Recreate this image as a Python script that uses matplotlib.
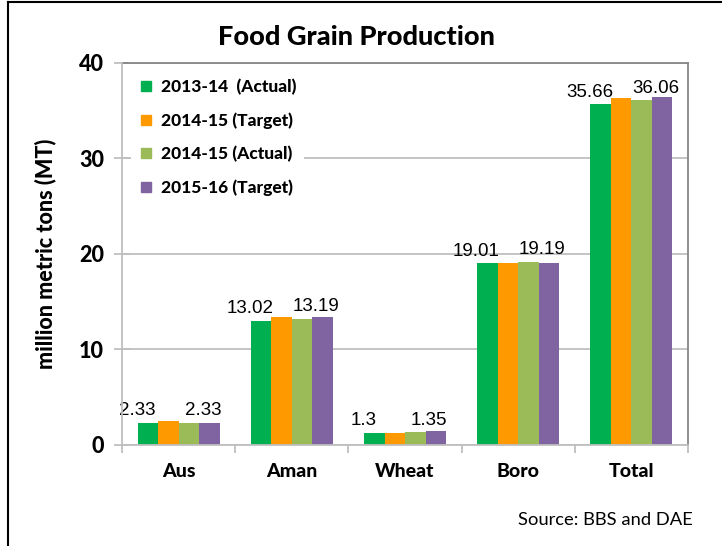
import matplotlib.pyplot as plt
import numpy as np
from matplotlib.lines import Line2D

categories = ["Aus", "Aman", "Wheat", "Boro", "Total"]
series_names = ["2013-14  (Actual)", "2014-15 (Target)", "2014-15 (Actual)", "2015-16 (Target)"]
actual_1314 = [2.33, 13.02, 1.30, 19.01, 35.66]
target_1415 = [2.55, 13.40, 1.30, 19.00, 36.30]
actual_1415 = [2.33, 13.19, 1.35, 19.19, 36.06]
target_1516 = [2.33, 13.40, 1.50, 19.00, 36.45]
colors = ["#00B050", "#FF9900", "#9BBB59", "#8064A2"]

values = [actual_1314, target_1415, actual_1415, target_1516]
labelled = [0, 2]  # series that carry data labels

fig = plt.figure(figsize=(7.22, 5.46), dpi=100)
ax = fig.add_axes([0.169, 0.185, 0.784, 0.70])

x = np.arange(len(categories))
w = 0.181
for i, (vals, col, name) in enumerate(zip(values, colors, series_names)):
    bars = ax.bar(x + (i - 1.5) * w, vals, width=w, color=col, label=name, zorder=3)
    if i in labelled:
        dx = -8 if i == 0 else 10
        for b, v in zip(bars, vals):
            ax.annotate(f"{v:g}", (b.get_x() + b.get_width() / 2, b.get_height()),
                        xytext=(dx, 2.5), textcoords="offset points",
                        ha="center", va="bottom", fontsize=13.5,
                        family="Liberation Sans", zorder=4)

ax.set_xlim(-0.5, 4.5)
ax.set_ylim(0, 40)
ax.set_yticks([0, 10, 20, 30, 40])
ax.grid(axis="y", color="#BFBFBF", linewidth=1.3, zorder=0)

bold = dict(family="Lato", fontweight="black")
ax.set_xticks(x)
ax.set_xticklabels(categories, fontsize=14, **bold)
ax.set_xticks(np.arange(-0.5, 5, 1), minor=True)
ax.tick_params(axis="x", which="major", length=0, pad=13)
ax.tick_params(axis="x", which="minor", direction="out", length=5.5, color="#BFBFBF", width=1.3)
ax.tick_params(axis="y", direction="inout", length=12, color="#BFBFBF", width=1.3,
               labelsize=15.5, pad=7)
for lab in ax.get_yticklabels():
    lab.set_fontweight("black")
    lab.set_family("Lato")

for s in ["left", "bottom"]:
    ax.spines[s].set_color("#BFBFBF")
    ax.spines[s].set_linewidth(1.3)
    ax.spines[s].set_zorder(5)
for s in ["top", "right"]:
    ax.spines[s].set_color("#868686")
    ax.spines[s].set_linewidth(1.3)

ax.set_ylabel("million metric tons (MT)", fontsize=15.5, labelpad=16, **bold)

handles = [Line2D([], [], marker="s", linestyle="none", markersize=7.5, color=c) for c in colors]
leg = ax.legend(handles, series_names, loc="upper left", bbox_to_anchor=(0.0, 1.0),
                frameon=True, framealpha=1, facecolor="white", edgecolor="none",
                fancybox=False, labelspacing=1.0, handlelength=1.0, handletextpad=0.35,
                borderpad=0.4, prop={"family": "Lato", "weight": "black", "size": 12.5})
leg.set_zorder(6)

fig.text(0.494, 0.932, "Food Grain Production", ha="center", va="center",
         fontsize=19.5, **bold)
fig.text(0.96, 0.047, "Source: BBS and DAE", ha="right", va="center",
         fontsize=13.2, family="Lato")

# outer frame (only left and top edges are inside the image)
fig.add_artist(Line2D([0.0105, 0.0105], [0, 0.996], color="black", linewidth=1.5,
                      transform=fig.transFigure))
fig.add_artist(Line2D([0.0105, 1.0], [0.996, 0.996], color="black", linewidth=1.5,
                      transform=fig.transFigure))

fig.savefig("out.png", dpi=100)
